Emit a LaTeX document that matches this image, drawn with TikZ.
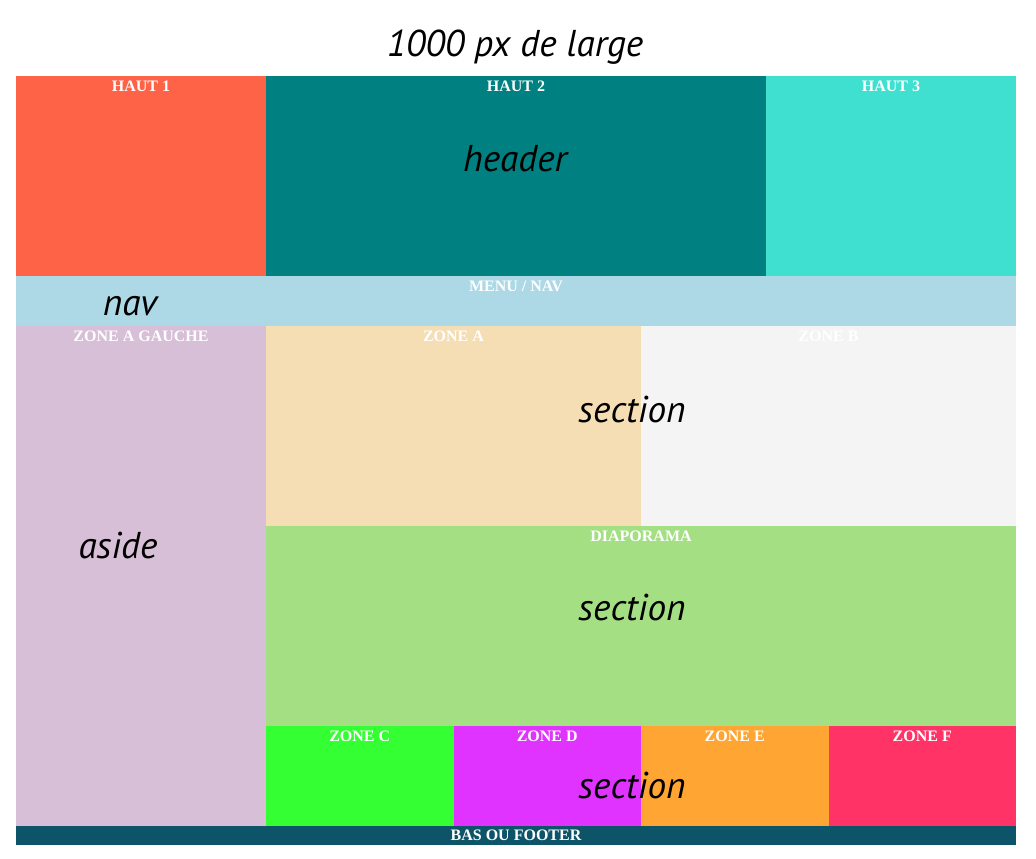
\documentclass[tikz,border=0pt]{standalone}
\usepackage{fontspec}
\setmainfont{Liberation Serif}
\newfontfamily\tagfont{PT Sans}
\usetikzlibrary{positioning}

\definecolor{tomate}{HTML}{FF6347}
\definecolor{sarcelle}{HTML}{008080}
\definecolor{turquoise}{HTML}{40E0D0}
\definecolor{bleuclair}{HTML}{ADD8E6}
\definecolor{chardon}{HTML}{D8BFD8}
\definecolor{ble}{HTML}{F5DEB3}
\definecolor{fumee}{HTML}{F4F4F4}
\definecolor{diapo}{HTML}{A5DF84}
\definecolor{zonec}{HTML}{33FF33}
\definecolor{zoned}{HTML}{E033FF}
\definecolor{zonee}{HTML}{FFA533}
\definecolor{zonef}{HTML}{FF3366}
\definecolor{pied}{HTML}{0E5468}

\begin{document}
\begin{tikzpicture}[
    x=0.75pt, y=-0.75pt,
    blk/.style 2 args={rectangle, inner sep=0pt, outer sep=0pt, anchor=north west, minimum width=#1*0.75pt, minimum height=#2*0.75pt},
    ztitle/.style={inner sep=0pt, text=white, font=\fontsize{12}{13}\selectfont\bfseries},
    tag/.style={inner sep=0pt, anchor=base, font=\tagfont\itshape\fontsize{28}{31}\selectfont}
]
\useasboundingbox (0,0) rectangle (1036,859);

% --- Header ---
\node[blk={250}{200}, fill=tomate] (haut1) at (16,76) {};
\node[blk={500}{200}, fill=sarcelle] (haut2) at (266,76) {};
\node[blk={250}{200}, fill=turquoise] (haut3) at (766,76) {};
\node[ztitle, below=3.5pt of haut1.north] {HAUT 1};
\node[ztitle, below=3.5pt of haut2.north] {HAUT 2};
\node[ztitle, below=3.5pt of haut3.north] {HAUT 3};

% --- Nav ---
\node[blk={1000}{50}, fill=bleuclair] (menu) at (16,276) {};
\node[ztitle, below=3.5pt of menu.north] {MENU / NAV};

% --- Aside ---
\node[blk={250}{500}, fill=chardon] (gauche) at (16,326) {};
\node[ztitle, below=3.5pt of gauche.north] {ZONE A GAUCHE};

% --- Sections ---
\node[blk={375}{200}, fill=ble] (zonea) at (266,326) {};
\node[blk={375}{200}, fill=fumee] (zoneb) at (641,326) {};
\node[ztitle, below=3.5pt of zonea.north] {ZONE A};
\node[ztitle, below=3.5pt of zoneb.north] {ZONE B};

\node[blk={750}{200}, fill=diapo] (diaporama) at (266,526) {};
\node[ztitle, below=3.5pt of diaporama.north] {DIAPORAMA};

\node[blk={187.5}{100}, fill=zonec] (zonec) at (266,726) {};
\node[blk={187.5}{100}, fill=zoned] (zoned) at (453.5,726) {};
\node[blk={187.5}{100}, fill=zonee] (zonee) at (641,726) {};
\node[blk={187.5}{100}, fill=zonef] (zonef) at (828.5,726) {};
\node[ztitle, below=3.5pt of zonec.north] {ZONE C};
\node[ztitle, below=3.5pt of zoned.north] {ZONE D};
\node[ztitle, below=3.5pt of zonee.north] {ZONE E};
\node[ztitle, below=3.5pt of zonef.north] {ZONE F};

% --- Footer ---
\node[blk={1000}{19}, fill=pied] (footer) at (16,826) {};
\node[ztitle, below=2.5pt of footer.north] {BAS OU FOOTER};

% --- Balises ---
\node[tag] (largeur) at (515,57) {1000 px de large};
\node[tag] (theader) at (515,172) {header};
\node[tag] (tnav) at (130,316) {nav};
\node[tag] (taside) at (118,558) {aside};
\node[tag] (tsection1) at (632,422) {section};
\node[tag] (tsection2) at (632,620) {section};
\node[tag] (tsection3) at (632,798) {section};

\end{tikzpicture}
\end{document}
